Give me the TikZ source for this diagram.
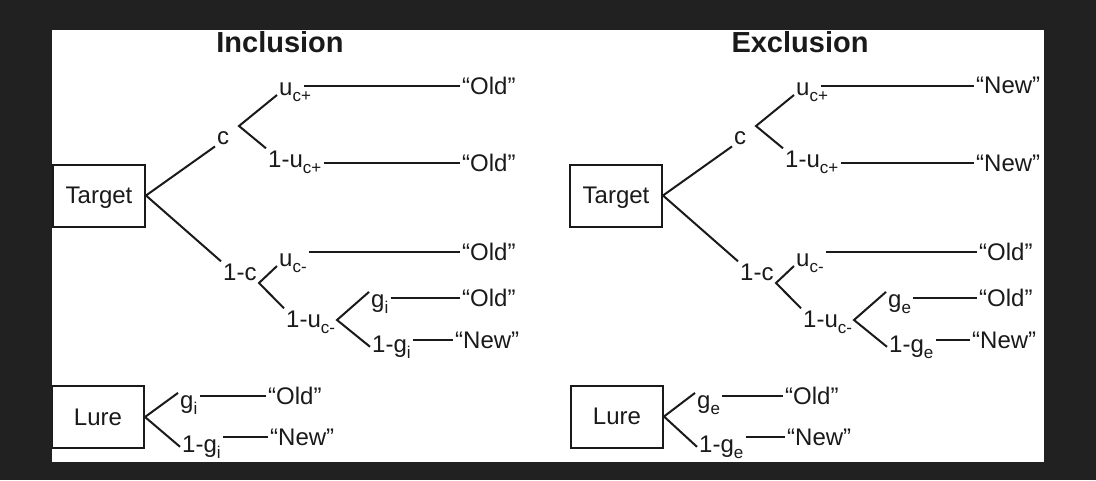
\documentclass[tikz,border=0pt]{standalone}
\usepackage{fontspec}
\setmainfont{Liberation Sans}
\usetikzlibrary{positioning}
\definecolor{trbg}{HTML}{212121}
\definecolor{trink}{HTML}{1A1A1A}
\newcommand\sbs[1]{\raisebox{-6pt}{\fontsize{17}{17}\selectfont #1}}
\tikzset{
  box/.style={rectangle,draw=trink,line width=2pt,minimum width=92pt,minimum height=62pt,inner sep=0pt,text depth=0pt,font=\fontsize{24}{28}\selectfont,text=trink},
  lbl/.style={inner sep=2pt,anchor=base west,font=\fontsize{24}{28}\selectfont,text=trink},
  leaf/.style={inner sep=2pt,anchor=west,font=\fontsize{24}{28}\selectfont,text=trink},
  branch/.style={draw=trink,line width=2pt},
  title/.style={font=\bfseries\fontsize{29}{34}\selectfont,text=trink},
}

\begin{document}
\begin{tikzpicture}[x=1pt,y=-1pt]
  \path[use as bounding box] (0,0) rectangle (1096,480);
  \fill[trbg] (0,0) rectangle (1096,480);
  \fill[white] (52,30) rectangle (1044,462);
  \begin{scope}
  \clip (52,30) rectangle (1044,462);
  % inclusion
  \node[title] (inTitle) at (280,42) {Inclusion};
  \node[box] (inT) at (99,195.5) {Target};
  \node[lbl] (inC) at (215,144) {c};
  \node[lbl] (inUcp) at (277,95) {u\sbs{c+}};
  \node[lbl] (in1Ucp) at (266,167) {1-u\sbs{c+}};
  \node[lbl] (in1C) at (221,280) {1-c};
  \node[lbl] (inUcm) at (277,266) {u\sbs{c-}};
  \node[lbl] (in1Ucm) at (284,327) {1-u\sbs{c-}};
  \node[lbl] (inG) at (369,307) {g\sbs{i}};
  \node[lbl] (in1G) at (370,352) {1-g\sbs{i}};
  \node[leaf] (inO1) at (460,85.5) {“Old”};
  \node[leaf] (inO2) at (460,163) {“Old”};
  \node[leaf] (inO3) at (460,251.5) {“Old”};
  \node[leaf] (inO4) at (460,298) {“Old”};
  \node[leaf] (inN1) at (453,340) {“New”};
  \coordinate (inCj) at (239,126);
  \coordinate (in1Cj) at (259,283);
  \coordinate (in1Ucmj) at (337,320);
  \draw[branch] (inC.south west) -- (inT.east) -- (in1C.north west);
  \draw[branch] (inUcp.base west) -- (inCj) -- (in1Ucp.north west);
  \draw[branch] (inUcm.base west) -- (in1Cj) -- (in1Ucm.north west);
  \draw[branch] (inG.north west) -- (in1Ucmj) -- (in1G.west);
  \draw[branch,shorten <=-9pt] (inUcp.east |- inO1.west) -- (inO1.west);
  \draw[branch] (in1Ucp.east |- inO2.west) -- (inO2.west);
  \draw[branch] (inUcm.east |- inO3.west) -- (inO3.west);
  \draw[branch] (inG.east |- inO4.west) -- (inO4.west);
  \draw[branch] (in1G.east |- inN1.west) -- (inN1.west);
  % inclusion lure
  \node[box] (inL) at (98,417) {Lure};
  \node[lbl] (inLG) at (178,408) {g\sbs{i}};
  \node[lbl] (in1LG) at (180,452) {1-g\sbs{i}};
  \node[leaf] (inLO) at (266,396) {“Old”};
  \node[leaf] (inLN) at (268,437) {“New”};
  \draw[branch] (inLG.north west) -- (inL.east) -- (in1LG.west);
  \draw[branch] (inLG.east |- inLO.west) -- (inLO.west);
  \draw[branch] (in1LG.east |- inLN.west) -- (inLN.west);
  \end{scope}
  \begin{scope}[xshift=517pt]
  \clip (-465,30) rectangle (527,462);
  % exclusion
  \node[title] (exTitle) at (283,42) {Exclusion};
  \node[box] (exT) at (99,195.5) {Target};
  \node[lbl] (exC) at (215,144) {c};
  \node[lbl] (exUcp) at (277,95) {u\sbs{c+}};
  \node[lbl] (ex1Ucp) at (266,167) {1-u\sbs{c+}};
  \node[lbl] (ex1C) at (221,280) {1-c};
  \node[lbl] (exUcm) at (277,266) {u\sbs{c-}};
  \node[lbl] (ex1Ucm) at (284,327) {1-u\sbs{c-}};
  \node[lbl] (exG) at (369,307) {g\sbs{e}};
  \node[lbl] (ex1G) at (370,352) {1-g\sbs{e}};
  \node[leaf] (exN1) at (457,85.5) {“New”};
  \node[leaf] (exN2) at (457,163) {“New”};
  \node[leaf] (exO1) at (460,251.5) {“Old”};
  \node[leaf] (exO2) at (460,298) {“Old”};
  \node[leaf] (exN3) at (453,340) {“New”};
  \coordinate (exCj) at (239,126);
  \coordinate (ex1Cj) at (259,283);
  \coordinate (ex1Ucmj) at (337,320);
  \draw[branch] (exC.south west) -- (exT.east) -- (ex1C.north west);
  \draw[branch] (exUcp.base west) -- (exCj) -- (ex1Ucp.north west);
  \draw[branch] (exUcm.base west) -- (ex1Cj) -- (ex1Ucm.north west);
  \draw[branch] (exG.north west) -- (ex1Ucmj) -- (ex1G.west);
  \draw[branch,shorten <=-9pt] (exUcp.east |- exN1.west) -- (exN1.west);
  \draw[branch] (ex1Ucp.east |- exN2.west) -- (exN2.west);
  \draw[branch] (exUcm.east |- exO1.west) -- (exO1.west);
  \draw[branch] (exG.east |- exO2.west) -- (exO2.west);
  \draw[branch] (ex1G.east |- exN3.west) -- (exN3.west);
  % exclusion lure
  \node[box] (exL) at (100,416.5) {Lure};
  \node[lbl] (exLG) at (178,408) {g\sbs{e}};
  \node[lbl] (ex1LG) at (180,452) {1-g\sbs{e}};
  \node[leaf] (exLO) at (266,396) {“Old”};
  \node[leaf] (exLN) at (268,437) {“New”};
  \draw[branch] (exLG.north west) -- (exL.east) -- (ex1LG.west);
  \draw[branch] (exLG.east |- exLO.west) -- (exLO.west);
  \draw[branch] (ex1LG.east |- exLN.west) -- (exLN.west);
  \end{scope}
\end{tikzpicture}
\end{document}
